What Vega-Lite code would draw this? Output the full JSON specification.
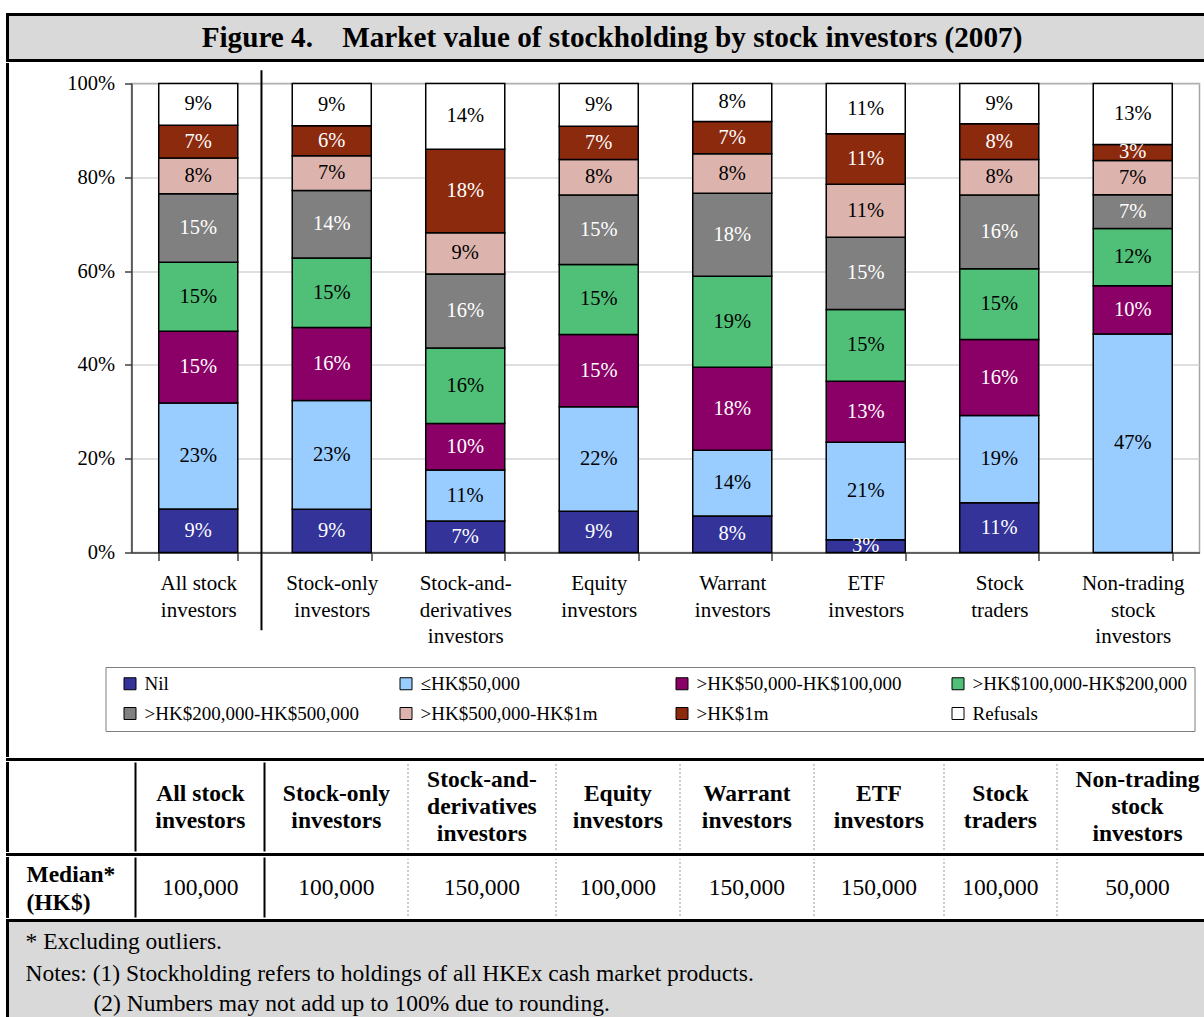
{
  "$schema": "https://vega.github.io/schema/vega-lite/v6.json",
  "padding": {"left": 5.5, "top": 12.5, "right": 0, "bottom": 0},
  "bounds": "full",
  "spacing": 0,
  "config": {
    "font": "Liberation Serif",
    "view": {"stroke": null},
    "concat": {"spacing": 0},
    "text": {"font": "Liberation Serif", "color": "black"}
  },
  "datasets": {
    "blank": [{}],
    "shares": [
      {"group": "All stock investors", "band": "Nil", "rank": 1, "share": 0.093},
      {"group": "All stock investors", "band": "≤HK$50,000", "rank": 2, "share": 0.226},
      {"group": "All stock investors", "band": ">HK$50,000-HK$100,000", "rank": 3, "share": 0.153},
      {"group": "All stock investors", "band": ">HK$100,000-HK$200,000", "rank": 4, "share": 0.147},
      {"group": "All stock investors", "band": ">HK$200,000-HK$500,000", "rank": 5, "share": 0.146},
      {"group": "All stock investors", "band": ">HK$500,000-HK$1m", "rank": 6, "share": 0.076},
      {"group": "All stock investors", "band": ">HK$1m", "rank": 7, "share": 0.070},
      {"group": "All stock investors", "band": "Refusals", "rank": 8, "share": 0.089},
      {"group": "Stock-only investors", "band": "Nil", "rank": 1, "share": 0.092},
      {"group": "Stock-only investors", "band": "≤HK$50,000", "rank": 2, "share": 0.232},
      {"group": "Stock-only investors", "band": ">HK$50,000-HK$100,000", "rank": 3, "share": 0.156},
      {"group": "Stock-only investors", "band": ">HK$100,000-HK$200,000", "rank": 4, "share": 0.148},
      {"group": "Stock-only investors", "band": ">HK$200,000-HK$500,000", "rank": 5, "share": 0.144},
      {"group": "Stock-only investors", "band": ">HK$500,000-HK$1m", "rank": 6, "share": 0.074},
      {"group": "Stock-only investors", "band": ">HK$1m", "rank": 7, "share": 0.064},
      {"group": "Stock-only investors", "band": "Refusals", "rank": 8, "share": 0.090},
      {"group": "Stock-and-derivatives investors", "band": "Nil", "rank": 1, "share": 0.067},
      {"group": "Stock-and-derivatives investors", "band": "≤HK$50,000", "rank": 2, "share": 0.109},
      {"group": "Stock-and-derivatives investors", "band": ">HK$50,000-HK$100,000", "rank": 3, "share": 0.099},
      {"group": "Stock-and-derivatives investors", "band": ">HK$100,000-HK$200,000", "rank": 4, "share": 0.161},
      {"group": "Stock-and-derivatives investors", "band": ">HK$200,000-HK$500,000", "rank": 5, "share": 0.158},
      {"group": "Stock-and-derivatives investors", "band": ">HK$500,000-HK$1m", "rank": 6, "share": 0.088},
      {"group": "Stock-and-derivatives investors", "band": ">HK$1m", "rank": 7, "share": 0.178},
      {"group": "Stock-and-derivatives investors", "band": "Refusals", "rank": 8, "share": 0.140},
      {"group": "Equity investors", "band": "Nil", "rank": 1, "share": 0.088},
      {"group": "Equity investors", "band": "≤HK$50,000", "rank": 2, "share": 0.223},
      {"group": "Equity investors", "band": ">HK$50,000-HK$100,000", "rank": 3, "share": 0.154},
      {"group": "Equity investors", "band": ">HK$100,000-HK$200,000", "rank": 4, "share": 0.149},
      {"group": "Equity investors", "band": ">HK$200,000-HK$500,000", "rank": 5, "share": 0.148},
      {"group": "Equity investors", "band": ">HK$500,000-HK$1m", "rank": 6, "share": 0.076},
      {"group": "Equity investors", "band": ">HK$1m", "rank": 7, "share": 0.071},
      {"group": "Equity investors", "band": "Refusals", "rank": 8, "share": 0.091},
      {"group": "Warrant investors", "band": "Nil", "rank": 1, "share": 0.078},
      {"group": "Warrant investors", "band": "≤HK$50,000", "rank": 2, "share": 0.140},
      {"group": "Warrant investors", "band": ">HK$50,000-HK$100,000", "rank": 3, "share": 0.177},
      {"group": "Warrant investors", "band": ">HK$100,000-HK$200,000", "rank": 4, "share": 0.194},
      {"group": "Warrant investors", "band": ">HK$200,000-HK$500,000", "rank": 5, "share": 0.177},
      {"group": "Warrant investors", "band": ">HK$500,000-HK$1m", "rank": 6, "share": 0.084},
      {"group": "Warrant investors", "band": ">HK$1m", "rank": 7, "share": 0.069},
      {"group": "Warrant investors", "band": "Refusals", "rank": 8, "share": 0.081},
      {"group": "ETF investors", "band": "Nil", "rank": 1, "share": 0.027},
      {"group": "ETF investors", "band": "≤HK$50,000", "rank": 2, "share": 0.208},
      {"group": "ETF investors", "band": ">HK$50,000-HK$100,000", "rank": 3, "share": 0.130},
      {"group": "ETF investors", "band": ">HK$100,000-HK$200,000", "rank": 4, "share": 0.153},
      {"group": "ETF investors", "band": ">HK$200,000-HK$500,000", "rank": 5, "share": 0.154},
      {"group": "ETF investors", "band": ">HK$500,000-HK$1m", "rank": 6, "share": 0.113},
      {"group": "ETF investors", "band": ">HK$1m", "rank": 7, "share": 0.108},
      {"group": "ETF investors", "band": "Refusals", "rank": 8, "share": 0.107},
      {"group": "Stock traders", "band": "Nil", "rank": 1, "share": 0.106},
      {"group": "Stock traders", "band": "≤HK$50,000", "rank": 2, "share": 0.186},
      {"group": "Stock traders", "band": ">HK$50,000-HK$100,000", "rank": 3, "share": 0.162},
      {"group": "Stock traders", "band": ">HK$100,000-HK$200,000", "rank": 4, "share": 0.151},
      {"group": "Stock traders", "band": ">HK$200,000-HK$500,000", "rank": 5, "share": 0.157},
      {"group": "Stock traders", "band": ">HK$500,000-HK$1m", "rank": 6, "share": 0.076},
      {"group": "Stock traders", "band": ">HK$1m", "rank": 7, "share": 0.076},
      {"group": "Stock traders", "band": "Refusals", "rank": 8, "share": 0.086},
      {"group": "Non-trading stock investors", "band": "≤HK$50,000", "rank": 2, "share": 0.466},
      {"group": "Non-trading stock investors", "band": ">HK$50,000-HK$100,000", "rank": 3, "share": 0.103},
      {"group": "Non-trading stock investors", "band": ">HK$100,000-HK$200,000", "rank": 4, "share": 0.122},
      {"group": "Non-trading stock investors", "band": ">HK$200,000-HK$500,000", "rank": 5, "share": 0.072},
      {"group": "Non-trading stock investors", "band": ">HK$500,000-HK$1m", "rank": 6, "share": 0.073},
      {"group": "Non-trading stock investors", "band": ">HK$1m", "rank": 7, "share": 0.034},
      {"group": "Non-trading stock investors", "band": "Refusals", "rank": 8, "share": 0.130}
    ],
    "medians": [
      {"group": "All stock investors", "median": 100000},
      {"group": "Stock-only investors", "median": 100000},
      {"group": "Stock-and-derivatives investors", "median": 150000},
      {"group": "Equity investors", "median": 100000},
      {"group": "Warrant investors", "median": 150000},
      {"group": "ETF investors", "median": 150000},
      {"group": "Stock traders", "median": 100000},
      {"group": "Non-trading stock investors", "median": 50000}
    ]
  },
  "vconcat": [
    {
      "width": 1209, "height": 46,
      "view": {"fill": "#D9D9D9", "stroke": "black", "strokeWidth": 3},
      "data": {"name": "blank"},
      "mark": {"type": "text", "fontSize": 29.2, "fontWeight": "bold", "font": "Liberation Serif", "color": "black"},
      "encoding": {"text": {"value": "Figure 4.\u00a0\u00a0\u00a0\u00a0Market value of stockholding by stock investors (2007)"}}
    },
    {
      "spacing": 0, "bounds": "full",
      "hconcat": [
        {"width": 0.01, "height": 691, "view": {"stroke": "black", "strokeWidth": 3}, "data": {"name": "blank"}, "mark": {"type": "text", "fontSize": 0}, "encoding": {"text": {"value": ""}}},
        {
          "spacing": 0, "bounds": "full",
          "vconcat": [
            {"width": 1068, "height": 4, "data": {"name": "blank"}, "mark": {"type": "text", "fontSize": 0}, "encoding": {"text": {"value": ""}}},
            {
              "width": 1068, "height": 469,
              "view": {"stroke": "#A6A6A6", "strokeWidth": 1.5},
              "layer": [
                {
                  "data": {"name": "shares"},
                  "mark": {"type": "bar", "stroke": "black", "strokeWidth": 1.5},
                  "encoding": {
                    "x": {
                      "field": "group", "type": "nominal",
                      "scale": {"domain": ["All stock investors", "Stock-only investors", "Stock-and-derivatives investors", "Equity investors", "Warrant investors", "ETF investors", "Stock traders", "Non-trading stock investors"], "paddingInner": 0.408, "paddingOuter": 0.204},
                      "axis": {
                        "title": null, "tickBand": "extent", "labelAngle": 0, "grid": false,
                        "domainColor": "#404040", "domainWidth": 1.5, "tickColor": "#404040", "tickWidth": 1.5, "tickSize": 8,
                        "labelFont": "Liberation Serif", "labelFontSize": 21, "labelColor": "black", "labelPadding": 12, "labelLineHeight": 26.5,
                        "labelExpr": "{'All stock investors': ['All stock', 'investors'], 'Stock-only investors': ['Stock-only', 'investors'], 'Stock-and-derivatives investors': ['Stock-and-', 'derivatives', 'investors'], 'Equity investors': ['Equity', 'investors'], 'Warrant investors': ['Warrant', 'investors'], 'ETF investors': ['ETF', 'investors'], 'Stock traders': ['Stock', 'traders'], 'Non-trading stock investors': ['Non-trading', 'stock', 'investors']}[datum.label]"
                      }
                    },
                    "y": {
                      "field": "share", "type": "quantitative", "stack": "zero",
                      "scale": {"domain": [0, 1], "nice": false},
                      "axis": {
                        "title": null, "values": [0, 0.2, 0.4, 0.6, 0.8, 1], "format": ".0%", "grid": true, "gridColor": "#BFBFBF", "gridWidth": 1,
                        "domainColor": "#404040", "domainWidth": 1.5, "tickColor": "#404040", "tickWidth": 1.5, "tickSize": 7,
                        "labelFont": "Liberation Serif", "labelFontSize": 20.5, "labelColor": "black", "labelPadding": 10, "labelFlush": false,
                        "minExtent": 120.5
                      }
                    },
                    "color": {
                      "field": "band", "type": "nominal",
                      "scale": {
                        "domain": ["Nil", "≤HK$50,000", ">HK$50,000-HK$100,000", ">HK$100,000-HK$200,000", ">HK$200,000-HK$500,000", ">HK$500,000-HK$1m", ">HK$1m", "Refusals"],
                        "range": ["#333399", "#99CCFF", "#8B0067", "#50BF78", "#808080", "#DDB4AD", "#8C2A0E", "#FFFFFF"]
                      },
                      "legend": {
                        "orient": "none", "legendX": 98, "legendY": 652.5, "direction": "horizontal", "columns": 4, "title": null,
                        "symbolType": "square", "symbolSize": 144, "symbolStrokeColor": "black", "symbolStrokeWidth": 1,
                        "labelFont": "Liberation Serif", "labelFontSize": 19, "labelColor": "black", "labelOffset": 5, "labelLimit": 400,
                        "strokeColor": "#7F7F7F", "padding": 7, "columnPadding": 29, "rowPadding": 10, "gridAlign": "all", "symbolOffset": 8
                      }
                    },
                    "order": {"field": "rank", "type": "quantitative"}
                  }
                },
                {
                  "data": {"name": "shares"},
                  "mark": {"type": "text", "fontSize": 20.5, "font": "Liberation Serif"},
                  "encoding": {
                    "x": {"field": "group", "type": "nominal"},
                    "y": {"field": "share", "type": "quantitative", "stack": "zero", "bandPosition": 0.5},
                    "detail": {"field": "band", "type": "nominal"},
                    "order": {"field": "rank", "type": "quantitative"},
                    "text": {"field": "share", "type": "quantitative", "format": ".0%"},
                    "color": {"condition": {"test": "indexof(['Nil', '>HK$50,000-HK$100,000', '>HK$200,000-HK$500,000', '>HK$1m'], datum.band) >= 0", "value": "white"}, "value": "black"}
                  }
                },
                {
                  "data": {"name": "blank"},
                  "mark": {"type": "rule", "color": "black", "strokeWidth": 2},
                  "encoding": {
                    "x": {"datum": "All stock investors", "type": "nominal", "bandPosition": 1.3},
                    "y": {"datum": 1.028, "type": "quantitative"},
                    "y2": {"datum": -0.166}
                  }
                }
              ]
            }
          ]
        }
      ]
    },
    {"width": 1209, "height": 0.01, "view": {"stroke": "black", "strokeWidth": 3}, "data": {"name": "blank"}, "mark": {"type": "text", "fontSize": 0}, "encoding": {"text": {"value": ""}}},
    {
      "spacing": 0, "bounds": "flush",
      "hconcat": [
        {"width": 0.01, "height": 87, "view": {"stroke": "black", "strokeWidth": 3}, "data": {"name": "blank"}, "mark": {"type": "text", "fontSize": 0}, "encoding": {"text": {"value": ""}}},
        {"width": 126.8, "height": 87, "data": {"name": "blank"}, "mark": {"type": "text", "fontSize": 0}, "encoding": {"text": {"value": ""}}},
        {"width": 0.01, "height": 87, "view": {"stroke": "black", "strokeWidth": 2}, "data": {"name": "blank"}, "mark": {"type": "text", "fontSize": 0}, "encoding": {"text": {"value": ""}}},
        {"width": 127.8, "height": 87, "data": {"name": "blank"}, "mark": {"type": "text", "fontSize": 23.5, "fontWeight": "bold", "lineHeight": 27, "dy": -13.5}, "encoding": {"text": {"value": ["All stock", "investors"]}}},
        {"width": 0.01, "height": 87, "view": {"stroke": "black", "strokeWidth": 2}, "data": {"name": "blank"}, "mark": {"type": "text", "fontSize": 0}, "encoding": {"text": {"value": ""}}},
        {"width": 141.8, "height": 87, "data": {"name": "blank"}, "mark": {"type": "text", "fontSize": 23.5, "fontWeight": "bold", "lineHeight": 27, "dy": -13.5}, "encoding": {"text": {"value": ["Stock-only", "investors"]}}},
        {"width": 0.01, "height": 87, "view": {"stroke": "#999999", "strokeWidth": 1, "strokeDash": [1, 3]}, "data": {"name": "blank"}, "mark": {"type": "text", "fontSize": 0}, "encoding": {"text": {"value": ""}}},
        {"width": 146.8, "height": 87, "data": {"name": "blank"}, "mark": {"type": "text", "fontSize": 23.5, "fontWeight": "bold", "lineHeight": 27, "dy": -27}, "encoding": {"text": {"value": ["Stock-and-", "derivatives", "investors"]}}},
        {"width": 0.01, "height": 87, "view": {"stroke": "#999999", "strokeWidth": 1, "strokeDash": [1, 3]}, "data": {"name": "blank"}, "mark": {"type": "text", "fontSize": 0}, "encoding": {"text": {"value": ""}}},
        {"width": 122.8, "height": 87, "data": {"name": "blank"}, "mark": {"type": "text", "fontSize": 23.5, "fontWeight": "bold", "lineHeight": 27, "dy": -13.5}, "encoding": {"text": {"value": ["Equity", "investors"]}}},
        {"width": 0.01, "height": 87, "view": {"stroke": "#999999", "strokeWidth": 1, "strokeDash": [1, 3]}, "data": {"name": "blank"}, "mark": {"type": "text", "fontSize": 0}, "encoding": {"text": {"value": ""}}},
        {"width": 132.8, "height": 87, "data": {"name": "blank"}, "mark": {"type": "text", "fontSize": 23.5, "fontWeight": "bold", "lineHeight": 27, "dy": -13.5}, "encoding": {"text": {"value": ["Warrant", "investors"]}}},
        {"width": 0.01, "height": 87, "view": {"stroke": "#999999", "strokeWidth": 1, "strokeDash": [1, 3]}, "data": {"name": "blank"}, "mark": {"type": "text", "fontSize": 0}, "encoding": {"text": {"value": ""}}},
        {"width": 128.8, "height": 87, "data": {"name": "blank"}, "mark": {"type": "text", "fontSize": 23.5, "fontWeight": "bold", "lineHeight": 27, "dy": -13.5}, "encoding": {"text": {"value": ["ETF", "investors"]}}},
        {"width": 0.01, "height": 87, "view": {"stroke": "#999999", "strokeWidth": 1, "strokeDash": [1, 3]}, "data": {"name": "blank"}, "mark": {"type": "text", "fontSize": 0}, "encoding": {"text": {"value": ""}}},
        {"width": 111.8, "height": 87, "data": {"name": "blank"}, "mark": {"type": "text", "fontSize": 23.5, "fontWeight": "bold", "lineHeight": 27, "dy": -13.5}, "encoding": {"text": {"value": ["Stock", "traders"]}}},
        {"width": 0.01, "height": 87, "view": {"stroke": "#999999", "strokeWidth": 1, "strokeDash": [1, 3]}, "data": {"name": "blank"}, "mark": {"type": "text", "fontSize": 0}, "encoding": {"text": {"value": ""}}},
        {"width": 160, "height": 87, "data": {"name": "blank"}, "mark": {"type": "text", "fontSize": 23.5, "fontWeight": "bold", "lineHeight": 27, "dy": -27}, "encoding": {"text": {"value": ["Non-trading", "stock", "investors"]}}}
      ]
    },
    {"width": 1209, "height": 0.01, "view": {"stroke": "black", "strokeWidth": 3}, "data": {"name": "blank"}, "mark": {"type": "text", "fontSize": 0}, "encoding": {"text": {"value": ""}}},
    {
      "spacing": 0, "bounds": "flush",
      "hconcat": [
        {"width": 0.01, "height": 58, "view": {"stroke": "black", "strokeWidth": 3}, "data": {"name": "blank"}, "mark": {"type": "text", "fontSize": 0}, "encoding": {"text": {"value": ""}}},
        {"width": 126.8, "height": 58, "data": {"name": "blank"}, "mark": {"type": "text", "fontSize": 23.5, "fontWeight": "bold", "align": "left", "dx": -45.4, "dy": -13, "lineHeight": 28}, "encoding": {"text": {"value": ["Median*", "(HK$)"]}}},
        {"width": 0.01, "height": 58, "view": {"stroke": "black", "strokeWidth": 2}, "data": {"name": "blank"}, "mark": {"type": "text", "fontSize": 0}, "encoding": {"text": {"value": ""}}},
        {"width": 127.8, "height": 58, "data": {"name": "medians"}, "transform": [{"filter": "datum.group == 'All stock investors'"}], "mark": {"type": "text", "fontSize": 23.5}, "encoding": {"text": {"field": "median", "type": "quantitative", "format": ","}}},
        {"width": 0.01, "height": 58, "view": {"stroke": "black", "strokeWidth": 2}, "data": {"name": "blank"}, "mark": {"type": "text", "fontSize": 0}, "encoding": {"text": {"value": ""}}},
        {"width": 141.8, "height": 58, "data": {"name": "medians"}, "transform": [{"filter": "datum.group == 'Stock-only investors'"}], "mark": {"type": "text", "fontSize": 23.5}, "encoding": {"text": {"field": "median", "type": "quantitative", "format": ","}}},
        {"width": 0.01, "height": 58, "view": {"stroke": "#999999", "strokeWidth": 1, "strokeDash": [1, 3]}, "data": {"name": "blank"}, "mark": {"type": "text", "fontSize": 0}, "encoding": {"text": {"value": ""}}},
        {"width": 146.8, "height": 58, "data": {"name": "medians"}, "transform": [{"filter": "datum.group == 'Stock-and-derivatives investors'"}], "mark": {"type": "text", "fontSize": 23.5}, "encoding": {"text": {"field": "median", "type": "quantitative", "format": ","}}},
        {"width": 0.01, "height": 58, "view": {"stroke": "#999999", "strokeWidth": 1, "strokeDash": [1, 3]}, "data": {"name": "blank"}, "mark": {"type": "text", "fontSize": 0}, "encoding": {"text": {"value": ""}}},
        {"width": 122.8, "height": 58, "data": {"name": "medians"}, "transform": [{"filter": "datum.group == 'Equity investors'"}], "mark": {"type": "text", "fontSize": 23.5}, "encoding": {"text": {"field": "median", "type": "quantitative", "format": ","}}},
        {"width": 0.01, "height": 58, "view": {"stroke": "#999999", "strokeWidth": 1, "strokeDash": [1, 3]}, "data": {"name": "blank"}, "mark": {"type": "text", "fontSize": 0}, "encoding": {"text": {"value": ""}}},
        {"width": 132.8, "height": 58, "data": {"name": "medians"}, "transform": [{"filter": "datum.group == 'Warrant investors'"}], "mark": {"type": "text", "fontSize": 23.5}, "encoding": {"text": {"field": "median", "type": "quantitative", "format": ","}}},
        {"width": 0.01, "height": 58, "view": {"stroke": "#999999", "strokeWidth": 1, "strokeDash": [1, 3]}, "data": {"name": "blank"}, "mark": {"type": "text", "fontSize": 0}, "encoding": {"text": {"value": ""}}},
        {"width": 128.8, "height": 58, "data": {"name": "medians"}, "transform": [{"filter": "datum.group == 'ETF investors'"}], "mark": {"type": "text", "fontSize": 23.5}, "encoding": {"text": {"field": "median", "type": "quantitative", "format": ","}}},
        {"width": 0.01, "height": 58, "view": {"stroke": "#999999", "strokeWidth": 1, "strokeDash": [1, 3]}, "data": {"name": "blank"}, "mark": {"type": "text", "fontSize": 0}, "encoding": {"text": {"value": ""}}},
        {"width": 111.8, "height": 58, "data": {"name": "medians"}, "transform": [{"filter": "datum.group == 'Stock traders'"}], "mark": {"type": "text", "fontSize": 23.5}, "encoding": {"text": {"field": "median", "type": "quantitative", "format": ","}}},
        {"width": 0.01, "height": 58, "view": {"stroke": "#999999", "strokeWidth": 1, "strokeDash": [1, 3]}, "data": {"name": "blank"}, "mark": {"type": "text", "fontSize": 0}, "encoding": {"text": {"value": ""}}},
        {"width": 160, "height": 58, "data": {"name": "medians"}, "transform": [{"filter": "datum.group == 'Non-trading stock investors'"}], "mark": {"type": "text", "fontSize": 23.5}, "encoding": {"text": {"field": "median", "type": "quantitative", "format": ","}}}
      ]
    },
    {
      "width": 1209, "height": 98,
      "view": {"fill": "#D9D9D9", "stroke": "black", "strokeWidth": 3},
      "data": {"name": "blank"},
      "layer": [
        {"mark": {"type": "text", "fontSize": 23.5, "align": "left", "dx": -586.5, "dy": -28, "lineHeight": 32}, "encoding": {"text": {"value": ["* Excluding outliers.", "Notes: (1) Stockholding refers to holdings of all HKEx cash market products."]}}},
        {"mark": {"type": "text", "fontSize": 23.5, "align": "left", "dx": -518.5, "dy": 34}, "encoding": {"text": {"value": "(2) Numbers may not add up to 100% due to rounding."}}}
      ]
    }
  ]
}
